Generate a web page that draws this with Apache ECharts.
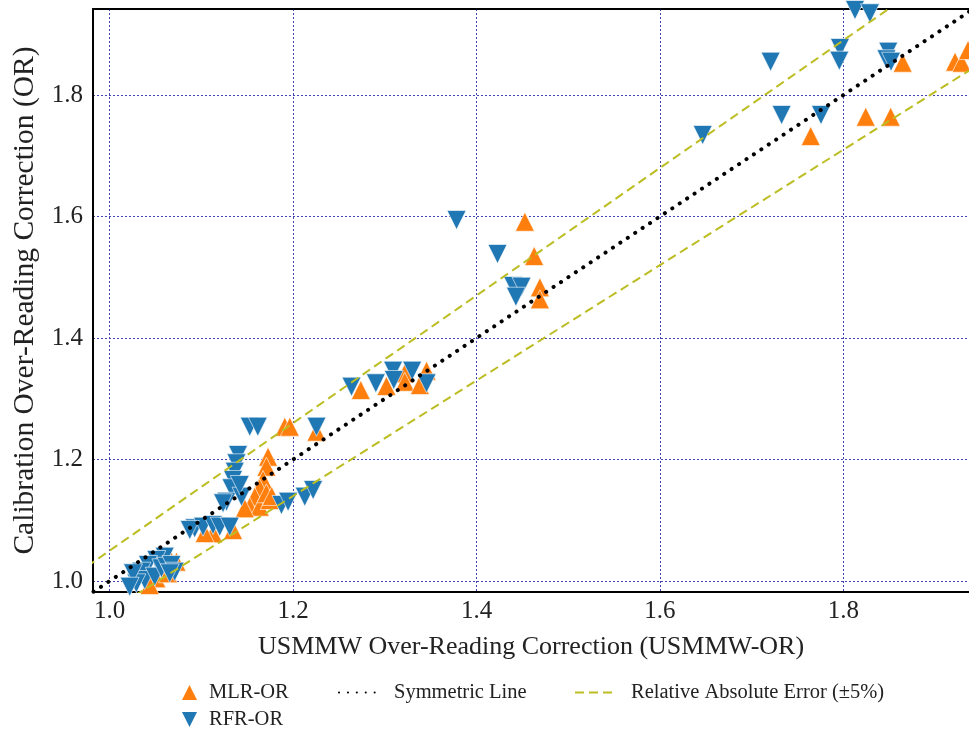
<!DOCTYPE html>
<html><head><meta charset="utf-8">
<script src="https://cdn.jsdelivr.net/npm/echarts@6/dist/echarts.min.js"></script>
<style>html,body{margin:0;padding:0;background:#fff}#c{width:969px;height:734px}</style>
</head><body><div id="c"></div>
<script>
// MLR-OR (orange, up triangles): x = USMMW-OR, y = Calibration OR
const mlrX = [1.4527,1.4629,1.4691,1.4691,1.2738,1.3018,1.3218,1.3218,1.3455,1.3382,1.2255,1.1909,1.1964,1.1727,1.1709,1.1672,1.1636,1.1582,1.1527,1.1636,1.1745,1.1473,1.1709,1.1767,1.1127,1.1345,1.1036,1.0673,1.0728,1.0509,1.0436,1.0636,1.7644,1.8244,1.8516,1.8647,1.9218,1.9290,1.9360];
const mlrY = [1.5914,1.5350,1.4835,1.4637,1.3144,1.3210,1.3419,1.3280,1.3462,1.3226,1.2458,1.2540,1.2540,1.2046,1.1881,1.1663,1.1526,1.1388,1.1223,1.1223,1.1333,1.1197,1.1444,1.1400,1.0785,1.0840,1.0790,1.0318,1.0318,1.0044,0.9934,1.0127,1.7325,1.7643,1.7643,1.8532,1.8548,1.8532,1.8740];
// RFR-OR (blue, down triangles)
const rfrX = [1.7207,1.7963,1.7956,1.8490,1.8470,1.8520,1.7327,1.7756,1.6466,1.8127,1.8290,1.3782,1.4229,1.4400,1.4491,1.4429,1.2637,1.2902,1.3090,1.3098,1.3298,1.3455,1.2255,1.1527,1.1615,1.1400,1.1382,1.1364,1.1345,1.1328,1.1273,1.1236,1.1437,1.1418,1.1873,1.1945,1.2127,1.2218,1.0927,1.1018,1.1127,1.1200,1.0873,1.1309,1.0600,1.0509,1.0418,1.0346,1.0382,1.0491,1.0564,1.0619,1.0291,1.0673,1.0709,1.0655,1.0254,1.0218];
const rfrY = [1.8548,1.8774,1.8565,1.8713,1.8588,1.8548,1.7671,1.7671,1.7342,1.9400,1.9345,1.5942,1.5383,1.4856,1.4844,1.4680,1.3198,1.3254,1.3462,1.3309,1.3462,1.3254,1.2540,1.2540,1.2540,1.2074,1.1937,1.1799,1.1663,1.1526,1.1305,1.1279,1.1388,1.1580,1.1251,1.1305,1.1388,1.1498,1.0867,1.0894,1.0922,1.0894,1.0840,1.0894,1.0400,1.0346,1.0263,1.0153,1.0016,1.0071,1.0209,1.0235,0.9962,1.0263,1.0153,1.0127,1.0127,0.9906];
// Reference lines (end points)
const lineX = [0.95, 2.00];
const symY = [0.95, 2.00];
const upperY = [0.9975, 2.10];
const lowerY = [0.9025, 1.90];
const tickVals = [1.0, 1.2, 1.4, 1.6, 1.8];

const zip = (a, b) => a.map((v, i) => [v, b[i]]);
const FONT = 'Liberation Serif';
const gridLine = {show: true, customValues: tickVals, lineStyle: {color: '#4444b0', type: [2, 2], width: 1}};

const chart = echarts.init(document.getElementById('c'), null, {renderer: 'canvas'});
const txt = {fontFamily: FONT, fontSize: 20.5, color: '#222'};
const hiddenSym = {color: 'rgba(0,0,0,0)', borderColor: 'rgba(0,0,0,0)', borderWidth: 0, opacity: 0};
chart.setOption({
  animation: false,
  backgroundColor: '#fff',
  grid: {left: 93, top: 9, right: 0, bottom: 142, containLabel: false},
  xAxis: [{
    type: 'value', min: 0.9818, max: 1.937,
    name: 'USMMW Over-Reading Correction (USMMW-OR)', nameLocation: 'middle', nameGap: 42,
    nameTextStyle: {fontFamily: FONT, fontSize: 26, color: '#222'},
    axisLine: {show: true, onZero: false, lineStyle: {color: '#000', width: 2}},
    axisTick: {show: false, customValues: tickVals},
    axisLabel: {customValues: tickVals, fontFamily: FONT, fontSize: 25, color: '#222', margin: 7, formatter: v => v.toFixed(1)},
    splitLine: gridLine
  }, {
    type: 'value', min: 0.9818, max: 1.937, position: 'top',
    axisLine: {show: true, onZero: false, lineStyle: {color: '#000', width: 2}},
    axisTick: {show: false}, axisLabel: {show: false}, splitLine: {show: false}
  }],
  yAxis: {
    type: 'value', min: 0.9819, max: 1.9416,
    name: 'Calibration Over-Reading Correction (OR)', nameLocation: 'middle', nameGap: 53,
    nameTextStyle: {fontFamily: FONT, fontSize: 29.5, color: '#222'},
    axisLine: {show: true, onZero: false, lineStyle: {color: '#000', width: 2}},
    axisTick: {show: false, customValues: tickVals},
    axisLabel: {customValues: tickVals, fontFamily: FONT, fontSize: 25, color: '#222', margin: 10, formatter: v => v.toFixed(1)},
    splitLine: gridLine
  },
  legend: [
    {left: 177, top: 677, itemWidth: 15, itemHeight: 15, selectedMode: false,
      textStyle: Object.assign({}, txt, {padding: [0, 0, 0, 7]}),
      data: [{name: 'MLR-OR', icon: 'path://M1,0L2,2L0,2Z', itemStyle: {color: '#ff7f0e', borderWidth: 0}}]},
    {left: 177, top: 704, itemWidth: 15, itemHeight: 15, selectedMode: false,
      textStyle: Object.assign({}, txt, {padding: [0, 0, 0, 7]}),
      data: [{name: 'RFR-OR', icon: 'path://M0,0L2,0L1,2Z', itemStyle: {color: '#1f77b4', borderWidth: 0}}]},
    {left: 333, top: 677, itemWidth: 40, itemHeight: 14, selectedMode: false,
      textStyle: Object.assign({}, txt, {padding: [0, 0, 0, 10]}),
      data: [{name: 'Symmetric Line', itemStyle: hiddenSym}]},
    {left: 569, top: 677, itemWidth: 40, itemHeight: 14, selectedMode: false,
      textStyle: Object.assign({}, txt, {padding: [0, 0, 0, 11]}),
      data: [{name: 'Relative Absolute Error (±5%)', itemStyle: hiddenSym}]}
  ],
  series: [
    {name: 'MLR-OR', type: 'scatter', data: zip(mlrX, mlrY), symbol: 'triangle', symbolSize: 19,
      itemStyle: {color: '#ff7f0e', borderColor: '#fff', borderWidth: 0.6, opacity: 1}, z: 3},
    {name: 'RFR-OR', type: 'scatter', data: zip(rfrX, rfrY), symbol: 'triangle', symbolRotate: 180, symbolSize: 19,
      itemStyle: {color: '#1f77b4', borderColor: '#fff', borderWidth: 0.6, opacity: 1}, z: 4},
    {name: 'Symmetric Line', type: 'line', data: zip(lineX, symY), symbol: 'none', clip: true,
      lineStyle: {color: '#000', width: 4, type: [0.1, 8.8], cap: 'round'}, itemStyle: {color: '#000'}, z: 5},
    {name: 'Relative Absolute Error (±5%)', type: 'line', data: zip(lineX, upperY), symbol: 'none', clip: true,
      lineStyle: {color: '#bcbd22', width: 2, type: [9, 5]}, itemStyle: {color: '#bcbd22'}, z: 5},
    {name: 'Relative Absolute Error (±5%)', type: 'line', data: zip(lineX, lowerY), symbol: 'none', clip: true,
      lineStyle: {color: '#bcbd22', width: 2, type: [9, 5]}, itemStyle: {color: '#bcbd22'}, z: 5}
  ]
});
</script></body></html>
